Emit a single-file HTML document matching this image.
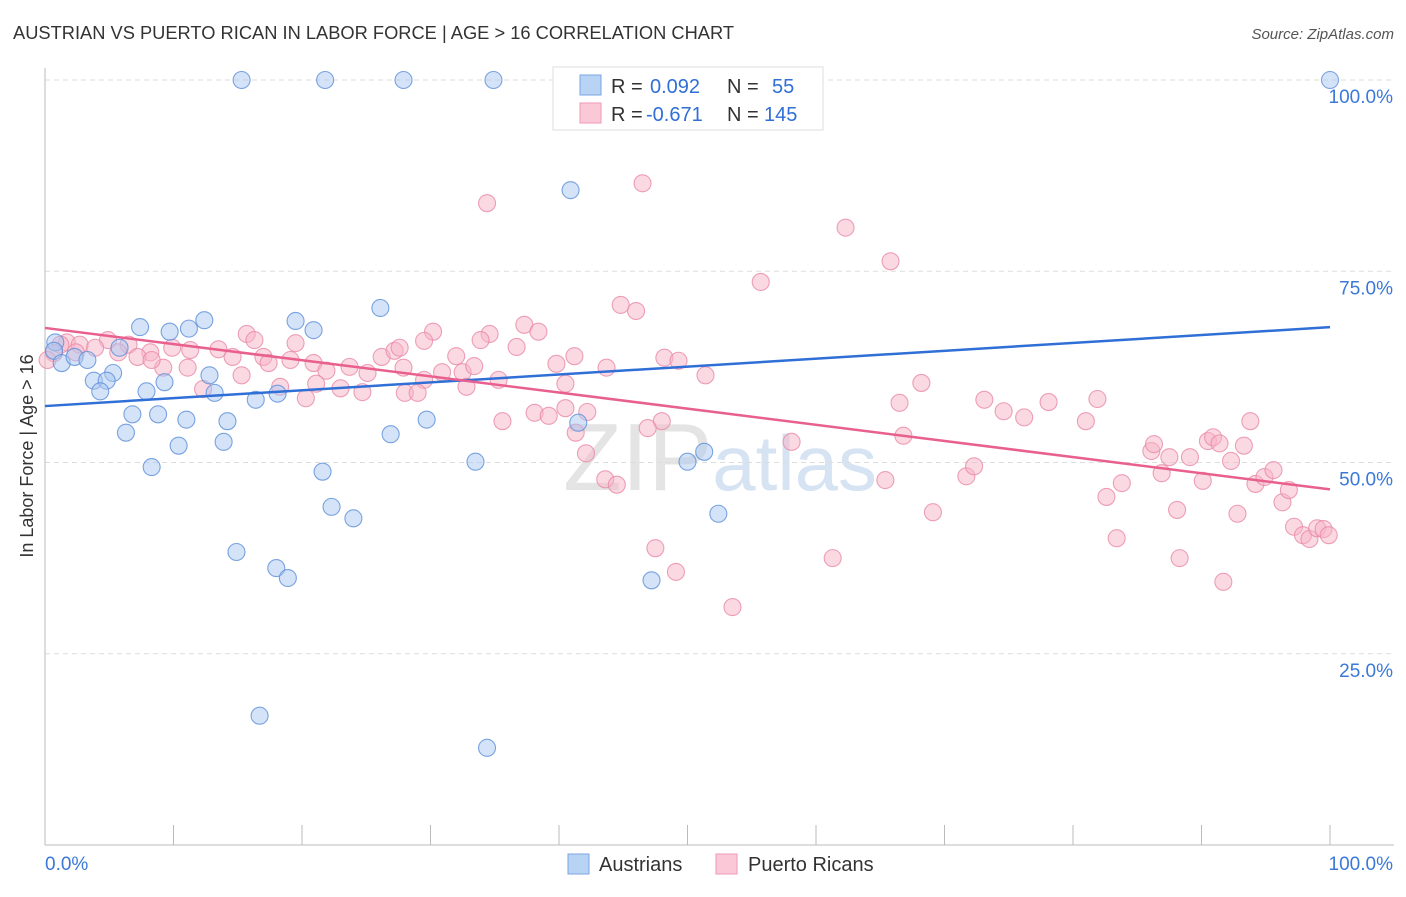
<!DOCTYPE html>
<html><head><meta charset="utf-8"><style>
body{margin:0;background:#fff;font-family:"Liberation Sans",sans-serif}
svg text{font-family:"Liberation Sans",sans-serif}
</style></head><body>
<svg id="chart" width="1406" height="892">
<text x="13" y="39" font-size="18" fill="#333" textLength="721" lengthAdjust="spacingAndGlyphs">AUSTRIAN VS PUERTO RICAN IN LABOR FORCE | AGE &gt; 16 CORRELATION CHART</text>
<text x="1394" y="39" font-size="15" fill="#555" font-style="italic" text-anchor="end">Source: ZipAtlas.com</text>
<text x="720" y="490" font-size="96" fill="#e4e4e4" text-anchor="middle" font-family="Liberation Serif">ZIP<tspan fill="#d6e3f3" font-family="Liberation Sans" font-size="78">atlas</tspan></text>
<g id="grid"></g><g id="axes"></g><g id="pts"></g><g id="lines"></g>
<text transform="translate(33,456) rotate(-90)" font-size="18" fill="#333" text-anchor="middle">In Labor Force | Age &gt; 16</text>
<g>
<rect x="553" y="67" width="270" height="63" fill="#fff" stroke="#ddd"/>
<rect x="580" y="75" width="21" height="20" fill="#b9d3f5" stroke="#7aa6e2"/>
<rect x="580" y="103" width="21" height="20" fill="#fbc8d7" stroke="#ef9ab4"/>
<text x="611" y="93" font-size="20" fill="#333">R = <tspan x="650" fill="#2f6fd6">0.092</tspan><tspan x="727">N = </tspan><tspan x="772" fill="#2f6fd6">55</tspan></text>
<text x="611" y="121" font-size="20" fill="#333">R = <tspan x="646" fill="#2f6fd6">-0.671</tspan><tspan x="727">N = </tspan><tspan x="764" fill="#2f6fd6">145</tspan></text>
</g>
<g>
<rect x="568" y="854" width="21" height="20" fill="#b9d3f5" stroke="#7aa6e2"/>
<text x="599" y="871" font-size="20" fill="#333">Austrians</text>
<rect x="716" y="854" width="21" height="20" fill="#fbc8d7" stroke="#ef9ab4"/>
<text x="748" y="871" font-size="20" fill="#333">Puerto Ricans</text>
</g>
</svg>
<script>
const yTicks=[100,75,50,25];
const yTickLabels=["100.0%","75.0%","50.0%","25.0%"];
const xTickLabels=["0.0%","100.0%"];
const austrianX=[15.3,21.8,27.9,34.9,100,40.9,26.1,12.4,7.4,9.7,11.2,19.5,20.9,0.8,0.7,1.3,2.3,3.3,5.8,5.3,3.8,4.8,4.3,9.3,7.9,12.8,13.2,18.1,16.4,6.8,8.8,11.0,14.2,6.3,13.9,10.4,8.3,26.9,29.7,41.5,33.5,21.6,22.3,24.0,50.0,51.3,52.4,14.9,18.0,18.9,47.2,16.7,34.4];
const austrianY=[100,100,100,100,100,85.6,70.2,68.6,67.7,67.1,67.5,68.5,67.3,65.7,64.6,63.0,63.8,63.4,65.0,61.7,60.7,60.7,59.3,60.5,59.3,61.4,59.1,59.0,58.2,56.3,56.3,55.6,55.4,53.9,52.7,52.2,49.4,53.7,55.6,55.2,50.1,48.8,44.2,42.7,50.1,51.4,43.3,38.3,36.2,34.9,34.6,16.9,12.7];
const prX=[46.5,34.4,62.3,65.8,55.7,44.8,46.0,37.3,38.4,30.2,34.6,29.5,33.9,36.7,15.7,16.3,4.9,1.7,1.2,2.7,3.9,6.5,8.2,9.9,11.3,13.5,14.6,17.0,17.4,19.1,19.5,20.9,21.9,23.7,25.1,26.2,27.2,27.6,27.9,29.5,30.9,32.5,32.0,33.4,35.3,39.8,41.2,43.7,48.2,49.3,51.4,68.2,66.5,73.1,74.6,76.2,78.1,81.9,81.0,66.8,58.1,48.0,46.9,40.5,42.2,41.3,38.1,39.2,35.6,40.5,32.8,28.0,29.0,24.7,23.0,21.1,20.3,18.3,12.3,15.3,11.1,9.2,7.2,8.3,5.7,2.4,0.7,0.2,42.1,43.6,44.5,47.5,49.1,53.5,61.3,65.4,69.1,71.7,72.3,82.6,83.8,83.4,86.1,86.3,86.9,87.5,88.1,88.3,89.1,90.1,90.5,90.9,91.4,91.7,92.3,92.8,93.3,93.8,94.2,94.9,95.6,96.3,96.8,97.2,97.9,98.4,99.0,99.5,99.9];
const prY=[86.5,83.9,80.7,76.3,73.6,70.6,69.8,68.0,67.1,67.1,66.8,65.9,66.0,65.1,66.8,66.0,66.0,65.7,65.4,65.4,65.0,65.4,64.4,65.0,64.7,64.8,63.8,63.8,63.0,63.4,65.6,63.0,62.0,62.5,61.7,63.8,64.6,65.0,62.4,60.8,61.8,61.8,63.9,62.6,60.8,62.9,63.9,62.4,63.7,63.3,61.4,60.4,57.8,58.2,56.7,55.9,57.9,58.3,55.4,53.5,52.7,55.4,54.5,57.1,56.6,53.9,56.5,56.1,55.4,60.3,59.9,59.1,59.1,59.2,59.7,60.3,58.4,59.9,59.6,61.4,62.4,62.4,63.8,63.4,64.4,64.4,64.3,63.4,51.2,47.8,47.1,38.8,35.7,31.1,37.5,47.7,43.5,48.2,49.5,45.5,47.3,40.1,51.5,52.4,48.6,50.7,43.8,37.5,50.7,47.6,52.8,53.3,52.5,34.4,50.2,43.3,52.2,55.4,47.2,48.1,49.0,44.8,46.4,41.6,40.5,40.0,41.4,41.3,40.5];
const NS="http://www.w3.org/2000/svg";
const X0=45,X1=1330,Y0=845,Y1=80;
function sx(v){return X0+(X1-X0)*v/100;}
function sy(v){return Y0-(Y0-Y1)*v/100;}
function mk(tag,attrs,parent){const e=document.createElementNS(NS,tag);for(const k in attrs)e.setAttribute(k,attrs[k]);parent.appendChild(e);return e;}
const grid=document.getElementById('grid'),axes=document.getElementById('axes'),pts=document.getElementById('pts'),lines=document.getElementById('lines');
yTicks.forEach((t,i)=>{
 const l=mk('line',{x1:X0,x2:1394,y1:sy(t),y2:sy(t),stroke:'#ddd','stroke-dasharray':'5,4'},grid);
 
 
 const tx=mk('text',{x:1393,y:sy(t)+23,'font-size':19,fill:'#3b78d8','text-anchor':'end'},grid);
 tx.textContent=yTickLabels[i];
 
 
});
const ax=mk('line',{x1:X0,x2:X0,y1:68,y2:Y0,stroke:'#bbb'},axes);


const bx=mk('line',{x1:X0,x2:1394,y1:Y0,y2:Y0,stroke:'#bbb'},axes);


for(let i=0;i<=10;i++){
 const t=mk('line',{x1:sx(i*10),x2:sx(i*10),y1:825,y2:Y0,stroke:'#bbb'},axes);
 
 
}
[[0,'start',45],[100,'end',1393]].forEach((d,i)=>{
 const tx=mk('text',{x:d[2],y:870,'font-size':19,fill:'#3b78d8','text-anchor':d[1]},axes);
 tx.textContent=xTickLabels[i];
 
 
});
function series(xs,ys,fill,stroke,name){
 xs.forEach((x,i)=>{
  const c=mk('circle',{cx:sx(x),cy:sy(ys[i]),r:8.5,fill:fill,'fill-opacity':0.5,stroke:stroke,'stroke-width':1.1,'stroke-opacity':0.8},pts);
  
  
 });
}
series(prX,prY,'#f7b3c8','#e88aa8','puerto-rican-point');
series(austrianX,austrianY,'#a9c7f1','#5b8fd9','austrian-point');
function fit(xs,ys){const n=xs.length;let mx=0,my=0;xs.forEach((x,i)=>{mx+=x;my+=ys[i];});mx/=n;my/=n;let sxy=0,sxx=0;xs.forEach((x,i)=>{sxy+=(x-mx)*(ys[i]-my);sxx+=(x-mx)*(x-mx);});const b=sxy/sxx;return [my-b*mx,b];}
[[austrianX,austrianY,'#2f6fd6','austrian-trend-line'],[prX,prY,'#e8608e','puerto-rican-trend-line']].forEach(s=>{
 const f=fit(s[0],s[1]);
 const l=mk('line',{x1:sx(0),y1:sy(f[0]),x2:sx(100),y2:sy(f[0]+f[1]*100),stroke:s[2],'stroke-width':2.5},lines);
 
 
});
</script>
</body></html>
